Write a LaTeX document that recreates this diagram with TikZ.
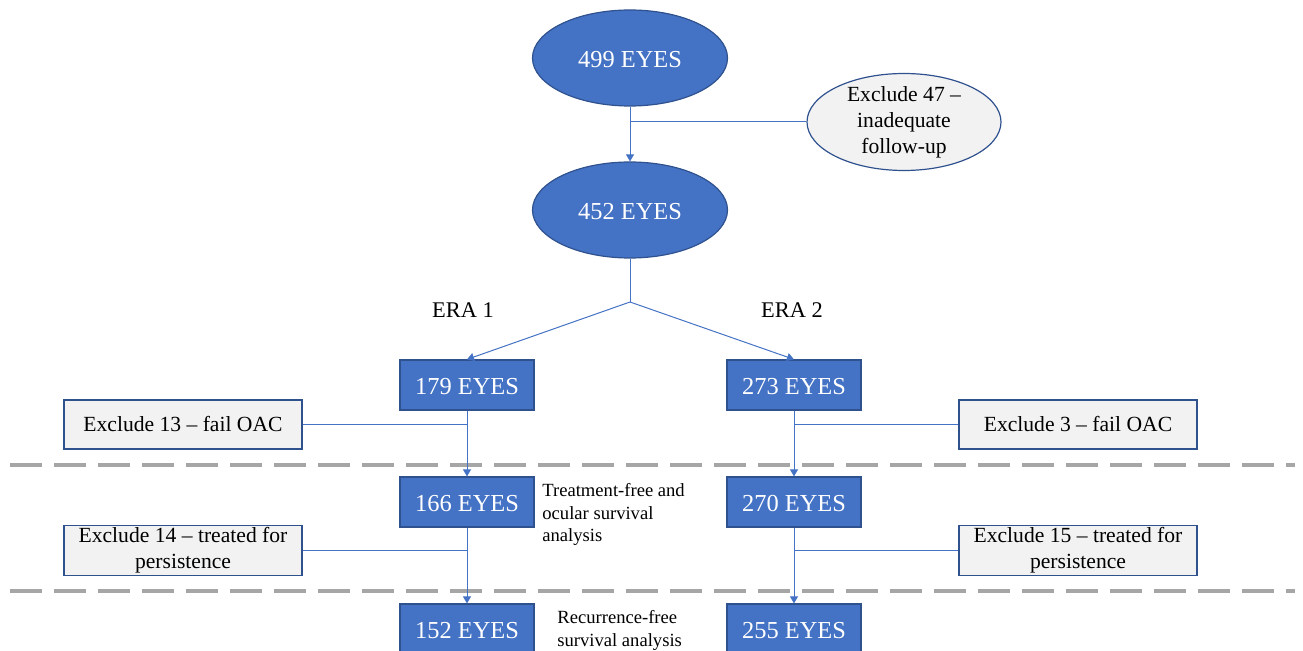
\documentclass[tikz,border=0pt]{standalone}
\usepackage{fontspec}
\setmainfont{Liberation Serif}
\usetikzlibrary{shapes.geometric,arrows.meta}
\definecolor{eyeblue}{HTML}{4472C4}
\definecolor{eyeedge}{HTML}{2F528F}
\definecolor{exgray}{HTML}{F2F2F2}
\definecolor{cutgray}{HTML}{A6A6A6}
\begin{document}
\begin{tikzpicture}[x=0.5pt, y=-0.5pt,
    count/.style={ellipse, fill=eyeblue, draw=eyeedge, line width=0.6pt, text=white,
      font=\fontsize{12.2}{14}\selectfont, text height=10pt, text depth=0pt,
      minimum width=97.5pt, minimum height=48pt},
    eyebox/.style={rectangle, fill=eyeblue, draw=eyeedge, line width=0.6pt, text=white,
      font=\fontsize{12.2}{14}\selectfont, text height=10pt, text depth=0pt,
      minimum width=67pt, minimum height=25pt},
    exclude/.style={rectangle, fill=exgray, draw=eyeedge, line width=0.6pt, align=center,
      font=\fontsize{10.8}{13}\selectfont, minimum width=119pt, minimum height=24.5pt, inner sep=1pt},
    exoval/.style={ellipse, fill=exgray, draw=eyeedge, line width=0.6pt, inner sep=0pt,
      font=\fontsize{10.8}{13}\selectfont, minimum width=97pt, minimum height=48.5pt},
    era/.style={font=\fontsize{11.2}{13}\selectfont},
    note/.style={align=left, inner sep=0pt, font=\fontsize{9.3}{11.3}\selectfont},
    flow/.style={draw=eyeblue, line width=0.5pt},
    arr/.style={flow, -{Triangle[width=4pt,length=3.5pt]}},
    cut/.style={draw=cutgray, line width=2pt, dash pattern=on 16pt off 6pt}]
  \useasboundingbox (0,0) rectangle (1303,651);
  \clip (0,0) rectangle (1303,651);

  \node[count] (e499) at (630,58) {499 EYES};
  \node[exoval] (ex47) at (904,122) {\parbox[c][30pt][c]{60pt}{\centering Exclude 47 --\\inadequate\\follow-up}};
  \node[count] (e452) at (630,210) {452 EYES};
  \coordinate (split) at (630,302);
  \node[era] (era1) at (463,310) {ERA 1};
  \node[era] (era2) at (792,310) {ERA 2};

  \node[eyebox] (b179) at (467,385) {179 EYES};
  \node[eyebox] (b273) at (794,385) {273 EYES};
  \node[exclude] (x13) at (183,424.5) {Exclude 13 -- fail OAC};
  \node[exclude] (x3) at (1078,424.5) {Exclude 3 -- fail OAC};

  \draw[cut] (10,465) -- (1295,465);
  \draw[cut] (10,591) -- (1295,591);

  \node[eyebox] (b166) at (467,502) {166 EYES};
  \node[eyebox] (b270) at (794,502) {270 EYES};
  \node[note, anchor=north west] (tfree) at (542,483) {Treatment-free and\\ocular survival\\analysis};
  \node[exclude] (x14) at (183,550.5) {Exclude 14 -- treated for\\persistence};
  \node[exclude] (x15) at (1078,550.5) {Exclude 15 -- treated for\\persistence};

  \node[eyebox] (b152) at (467,629) {152 EYES};
  \node[eyebox] (b255) at (794,629) {255 EYES};
  \node[note, anchor=north west] (rfree) at (557,610) {Recurrence-free\\survival analysis};

  \draw[arr] (e499) -- (e452);
  \draw[flow] (ex47.west) -- (ex47.west -| e499.south);
  \draw[flow] (e452) -- (split);
  \draw[arr] (split) -- (b179.north);
  \draw[arr] (split) -- (b273.north);
  \draw[arr] (b179) -- (b166);
  \draw[arr] (b273) -- (b270);
  \draw[flow] (x13) -- (x13 -| b179);
  \draw[flow] (x3) -- (x3 -| b273);
  \draw[arr] (b166) -- (b152);
  \draw[arr] (b270) -- (b255);
  \draw[flow] (x14) -- (x14 -| b166);
  \draw[flow] (x15) -- (x15 -| b270);
\end{tikzpicture}
\end{document}
